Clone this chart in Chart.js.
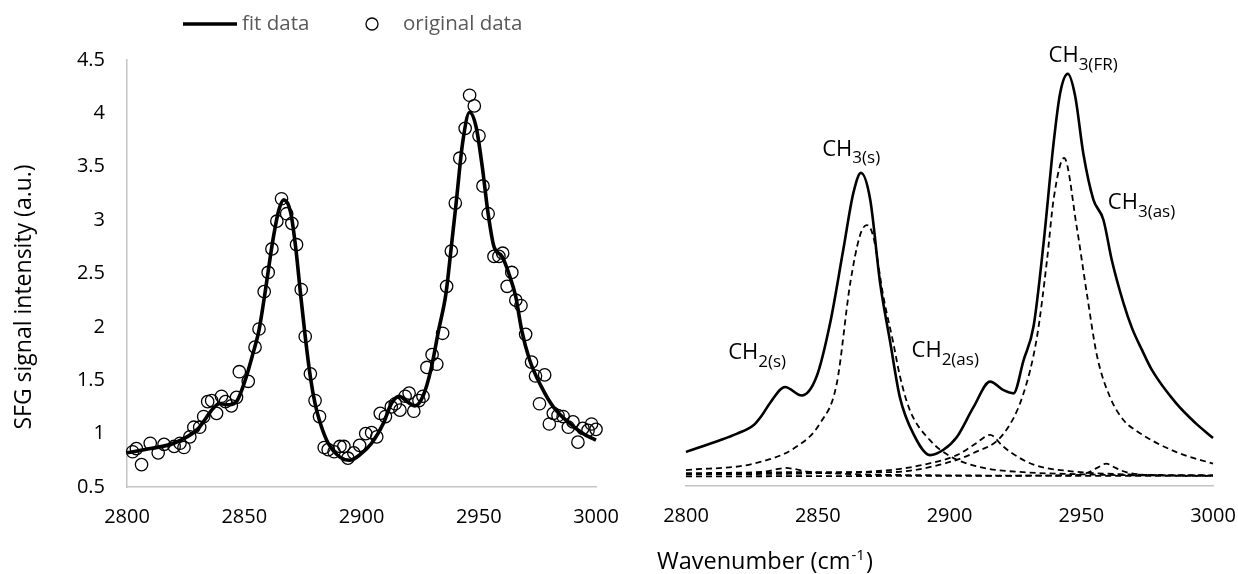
<!DOCTYPE html>
<html>
<head>
<meta charset="utf-8">
<script src="https://cdn.jsdelivr.net/npm/chart.js@4.4.1/dist/chart.umd.min.js"></script>
<style>
  html, body { margin: 0; padding: 0; background: #fff; }
  #wrap { position: relative; width: 1238px; height: 574px; background: #fff; overflow: hidden; }
  canvas { position: absolute; top: 0; }
  #left { left: 0; }
  #right { left: 640px; }
</style>
</head>
<body>
<div id="wrap">
  <canvas id="left" width="640" height="574"></canvas>
  <canvas id="right" width="640" height="574"></canvas>
</div>
<script>
// ---------- DATA ----------
const xTickLabels = ['2800', '2850', '2900', '2950', '3000'];
const yTickLabels = ['0.5', '1', '1.5', '2', '2.5', '3', '3.5', '4', '4.5'];
const seriesNames = ['fit data', 'original data'];
const yTitle = 'SFG signal intensity (a.u.)';
const xTitleMain = 'Wavenumber (cm';
const xTitleSup = '-1';
const xTitleEnd = ')';

// left panel: fitted curve
const fitX = [2800, 2810, 2820, 2830, 2836.9, 2839.4, 2843.6, 2847, 2850.4, 2853.7, 2856.3, 2858.8, 2862.2, 2864.7, 2866.9, 2869.8, 2871.9, 2874, 2876, 2878.2, 2880.2, 2882.4, 2885.8, 2890.8, 2895, 2899.2, 2904.3, 2909.4, 2912.7, 2916.1, 2919.5, 2922.8, 2926.2, 2929.6, 2932.9, 2936, 2938, 2940.5, 2943.1, 2946.1, 2948.9, 2951.5, 2954, 2956.5, 2959.9, 2963.3, 2965.8, 2968.3, 2971.7, 2976.7, 2981.8, 2988.5, 2995.3, 3000];
const fitY = [0.82, 0.86, 0.91, 1.04, 1.24, 1.28, 1.27, 1.31, 1.50, 1.75, 1.97, 2.31, 2.81, 3.09, 3.19, 3.07, 2.75, 2.31, 1.91, 1.53, 1.28, 1.10, 0.91, 0.78, 0.75, 0.80, 0.91, 1.10, 1.28, 1.35, 1.30, 1.26, 1.35, 1.60, 1.97, 2.31, 2.69, 3.19, 3.72, 4.01, 3.87, 3.50, 3.06, 2.75, 2.66, 2.47, 2.28, 1.97, 1.69, 1.44, 1.25, 1.10, 0.99, 0.94];

// left panel: measured points
const origX = [2802.4, 2804.0, 2806.2, 2809.9, 2813.3, 2815.8, 2820.1, 2822.6, 2824.3, 2826.8, 2828.5, 2831.0, 2832.7, 2834.4, 2836.1, 2838.2, 2840.3, 2842.0, 2844.5, 2846.7, 2847.9, 2851.7, 2854.6, 2856.3, 2858.5, 2860.2, 2861.8, 2863.9, 2865.9, 2868.1, 2870.3, 2872.3, 2874.3, 2876.0, 2878.2, 2880.2, 2882.1, 2884.1, 2885.8, 2888.3, 2890.8, 2892.5, 2894.2, 2896.7, 2899.2, 2901.8, 2904.3, 2906.5, 2908.0, 2910.2, 2912.7, 2914.4, 2916.4, 2918.6, 2920.3, 2922.3, 2924.5, 2926.2, 2927.9, 2930.1, 2932.1, 2934.6, 2936.3, 2938.3, 2940.0, 2941.9, 2944.2, 2946.1, 2948.1, 2950.1, 2951.8, 2954.0, 2956.5, 2958.6, 2960.2, 2962.1, 2964.1, 2965.8, 2968.0, 2970.0, 2972.5, 2974.2, 2975.9, 2978.1, 2980.1, 2981.8, 2983.8, 2986.0, 2988.2, 2990.2, 2992.3, 2994.4, 2996.6, 2998.1, 3000.0];
const origY = [0.83, 0.86, 0.71, 0.91, 0.82, 0.90, 0.88, 0.91, 0.87, 0.97, 1.06, 1.06, 1.16, 1.30, 1.31, 1.19, 1.35, 1.30, 1.26, 1.34, 1.58, 1.49, 1.81, 1.98, 2.33, 2.51, 2.73, 2.99, 3.20, 3.06, 2.97, 2.77, 2.35, 1.91, 1.56, 1.31, 1.16, 0.87, 0.85, 0.83, 0.88, 0.88, 0.77, 0.82, 0.89, 1.00, 1.01, 0.97, 1.19, 1.16, 1.25, 1.28, 1.22, 1.35, 1.38, 1.21, 1.31, 1.35, 1.62, 1.74, 1.65, 1.94, 2.38, 2.71, 3.16, 3.58, 3.86, 4.17, 4.07, 3.79, 3.32, 3.06, 2.66, 2.66, 2.69, 2.38, 2.51, 2.25, 2.20, 1.93, 1.67, 1.54, 1.28, 1.55, 1.09, 1.19, 1.17, 1.16, 1.06, 1.11, 0.92, 1.05, 1.03, 1.09, 1.04];

// right panel: summed spectrum (solid)
const sumX = [2800, 2812.9, 2819.2, 2825.6, 2828.7, 2831.9, 2837.6, 2843.9, 2849.6, 2854.7, 2859.7, 2863.5, 2866.4, 2869.9, 2873.7, 2877.5, 2881.2, 2886.3, 2892.6, 2897.7, 2902.8, 2909.1, 2915.4, 2920.5, 2924.3, 2928.1, 2931.9, 2935.7, 2939.5, 2942.0, 2944.9, 2947.7, 2950.8, 2954.6, 2958.4, 2961.6, 2966.0, 2969.3, 2973.0, 2976.8, 2985.9, 2993.4, 3000];
const sumY = [0.82, 0.93, 0.99, 1.07, 1.16, 1.28, 1.43, 1.35, 1.53, 2.03, 2.72, 3.25, 3.44, 3.19, 2.40, 1.85, 1.33, 0.99, 0.79, 0.84, 0.96, 1.24, 1.48, 1.40, 1.37, 1.68, 2.00, 2.78, 3.72, 4.19, 4.37, 4.16, 3.62, 3.19, 3.00, 2.62, 2.22, 1.98, 1.78, 1.59, 1.28, 1.09, 0.95];

// right panel: fitted components (dashed)
const ch2sX = [2800, 2820, 2830, 2835, 2838, 2841, 2846, 2860, 2900, 3000];
const ch2sY = [0.61, 0.62, 0.635, 0.66, 0.67, 0.66, 0.635, 0.615, 0.60, 0.595];
const ch3sX = [2800, 2825.6, 2842, 2850.9, 2857.2, 2862.3, 2866, 2868.6, 2871, 2874.9, 2878.7, 2881.2, 2885, 2892.6, 2900.2, 2913, 2928, 2950, 2975, 3000];
const ch3sY = [0.65, 0.71, 0.87, 1.09, 1.46, 2.40, 2.85, 2.95, 2.85, 2.28, 1.84, 1.53, 1.21, 0.93, 0.78, 0.67, 0.63, 0.61, 0.60, 0.60];
const ch2asX = [2800, 2850, 2877.4, 2890.1, 2902.8, 2910, 2915.4, 2920, 2923, 2931.9, 2945.5, 2966, 3000];
const ch2asY = [0.61, 0.62, 0.65, 0.70, 0.79, 0.90, 0.98, 0.88, 0.82, 0.70, 0.64, 0.61, 0.60];
const ch3frX = [2800, 2850, 2877.4, 2896.4, 2909.1, 2920.5, 2928.1, 2933.2, 2937, 2939.5, 2943.5, 2948.3, 2952.1, 2956, 2961, 2966, 2970.8, 2985.9, 3000];
const ch3frY = [0.62, 0.63, 0.63, 0.70, 0.81, 0.99, 1.37, 1.90, 2.62, 3.19, 3.58, 2.93, 2.31, 1.72, 1.33, 1.12, 1.02, 0.82, 0.71];
const ch3asX = [2800, 2900, 2945, 2952, 2956, 2959.5, 2963, 2967, 2980, 3000];
const ch3asY = [0.59, 0.595, 0.60, 0.62, 0.67, 0.71, 0.67, 0.63, 0.60, 0.595];

// peak labels: main text, subscript, anchor (wavenumber, intensity) of the text's left baseline
const peakMain = ['CH', 'CH', 'CH', 'CH', 'CH'];
const peakSub = ['2(s)', '3(s)', '2(as)', '3(FR)', '3(as)'];
const peakAtX = [2816.0, 2851.7, 2885.6, 2937.6, 2960.1];
const peakAtY = [1.69, 3.60, 1.71, 4.48, 3.10];

// ---------- HELPERS ----------
const FONT = '"Open Sans", "Noto Sans", sans-serif';
Chart.defaults.font.family = FONT;
Chart.defaults.color = '#000';
const pts = (xs, ys) => xs.map((x, i) => ({ x: x, y: ys[i] }));
const AXIS_COLOR = '#c4c4c4';

function xScale(extra) {
  return Object.assign({
    type: 'linear', min: 2800, max: 3000,
    grid: { display: false, drawTicks: false },
    border: { display: true, color: AXIS_COLOR, width: 1.5 },
    ticks: {
      stepSize: 50, padding: 18, color: '#000', maxRotation: 0, autoSkip: false,
      font: { size: 20, family: FONT },
      callback: (v) => xTickLabels[Math.round((v - 2800) / 50)]
    },
    afterFit: (s) => { s.height = 87; }
  }, extra || {});
}

function lineDs(xs, ys, width, dash, order) {
  return {
    type: 'scatter', data: pts(xs, ys), showLine: true,
    borderColor: '#000', borderWidth: width, borderDash: dash,
    pointRadius: 0, pointHoverRadius: 0, fill: false,
    cubicInterpolationMode: 'monotone', order: order, clip: false
  };
}

// ---------- LEFT CHART ----------
const legendPlugin = {
  id: 'customLegend',
  afterDraw(chart) {
    const ctx = chart.ctx;
    ctx.save();
    const y = 24;
    ctx.strokeStyle = '#000';
    ctx.lineWidth = 3.5;
    ctx.beginPath(); ctx.moveTo(183, y); ctx.lineTo(237, y); ctx.stroke();
    ctx.font = '20.5px ' + FONT;
    ctx.fillStyle = '#595959';
    ctx.textBaseline = 'middle';
    ctx.fillText(seriesNames[0], 242, y);
    ctx.lineWidth = 1.3;
    ctx.beginPath(); ctx.arc(372, y, 6, 0, Math.PI * 2); ctx.stroke();
    ctx.fillText(seriesNames[1], 403, y);
    ctx.restore();
  }
};

const yTitlePlugin = {
  id: 'yTitle',
  afterDraw(chart) {
    const ctx = chart.ctx;
    const ys = chart.scales.y;
    ctx.save();
    ctx.translate(24, ys.getPixelForValue(2.28));
    ctx.rotate(-Math.PI / 2);
    ctx.font = '23px ' + FONT;
    ctx.fillStyle = '#000';
    ctx.textAlign = 'center';
    ctx.textBaseline = 'middle';
    ctx.fillText(yTitle, 0, 0);
    ctx.restore();
  }
};

new Chart(document.getElementById('left'), {
  type: 'scatter',
  data: {
    datasets: [
      {
        label: seriesNames[1], data: pts(origX, origY), showLine: false,
        pointStyle: 'circle', pointRadius: 6.2, pointHoverRadius: 6.2,
        borderColor: '#000', borderWidth: 1.3, backgroundColor: 'rgba(0,0,0,0)',
        order: 0, clip: false
      },
      Object.assign(lineDs(fitX, fitY, 3.6, [], 1), { label: seriesNames[0] })
    ]
  },
  options: {
    responsive: false, animation: false, devicePixelRatio: 1,
    layout: { padding: { left: 11, top: 60, right: 44, bottom: 0 } },
    plugins: { legend: { display: false }, tooltip: { enabled: false } },
    scales: {
      x: xScale(),
      y: {
        type: 'linear', min: 0.5, max: 4.5,
        grid: { display: false, drawTicks: false },
        border: { display: true, color: AXIS_COLOR, width: 1.5 },
        ticks: {
          stepSize: 0.5, padding: 22, color: '#000',
          font: { size: 20, family: FONT },
          callback: (v) => yTickLabels[Math.round((v - 0.5) / 0.5)]
        },
        afterFit: (s) => { s.width = 116; }
      }
    }
  },
  plugins: [legendPlugin, yTitlePlugin]
});

// ---------- RIGHT CHART ----------
const peakLabelPlugin = {
  id: 'peakLabels',
  afterDatasetsDraw(chart) {
    const ctx = chart.ctx;
    const xs = chart.scales.x, ys = chart.scales.y;
    ctx.save();
    ctx.fillStyle = '#000';
    ctx.textBaseline = 'alphabetic';
    ctx.textAlign = 'left';
    for (let i = 0; i < peakMain.length; i++) {
      const px = xs.getPixelForValue(peakAtX[i]);
      const py = ys.getPixelForValue(peakAtY[i]);
      ctx.font = '22px ' + FONT;
      ctx.fillText(peakMain[i], px, py);
      const w = ctx.measureText(peakMain[i]).width;
      ctx.font = '17px ' + FONT;
      ctx.fillText(peakSub[i], px + w, py + 7.5);
    }
    ctx.restore();
  }
};

const xTitlePlugin = {
  id: 'xTitle',
  afterDraw(chart) {
    const ctx = chart.ctx;
    ctx.save();
    ctx.fillStyle = '#000';
    ctx.textBaseline = 'alphabetic';
    ctx.textAlign = 'left';
    let x = 17; const y = 569;
    ctx.font = '23.5px ' + FONT;
    ctx.fillText(xTitleMain, x, y);
    x += ctx.measureText(xTitleMain).width;
    ctx.font = '15px ' + FONT;
    ctx.fillText(xTitleSup, x + 1, y - 9);
    x += ctx.measureText(xTitleSup).width + 2;
    ctx.font = '23.5px ' + FONT;
    ctx.fillText(xTitleEnd, x, y);
    ctx.restore();
  }
};

new Chart(document.getElementById('right'), {
  type: 'scatter',
  data: {
    datasets: [
      lineDs(sumX, sumY, 2.6, [], 0),
      lineDs(ch2sX, ch2sY, 1.8, [6, 4], 1),
      lineDs(ch3sX, ch3sY, 1.8, [6, 4], 1),
      lineDs(ch2asX, ch2asY, 1.8, [6, 4], 1),
      lineDs(ch3frX, ch3frY, 1.8, [6, 4], 1),
      lineDs(ch3asX, ch3asY, 1.8, [6, 4], 1)
    ]
  },
  options: {
    responsive: false, animation: false, devicePixelRatio: 1,
    layout: { padding: { left: 46, top: 60, right: 67, bottom: 0 } },
    plugins: { legend: { display: false }, tooltip: { enabled: false } },
    scales: {
      x: xScale({ afterFit: (s) => { s.height = 88; } }),
      y: { type: 'linear', min: 0.5, max: 4.5, display: false }
    }
  },
  plugins: [peakLabelPlugin, xTitlePlugin]
});
</script>
</body>
</html>
